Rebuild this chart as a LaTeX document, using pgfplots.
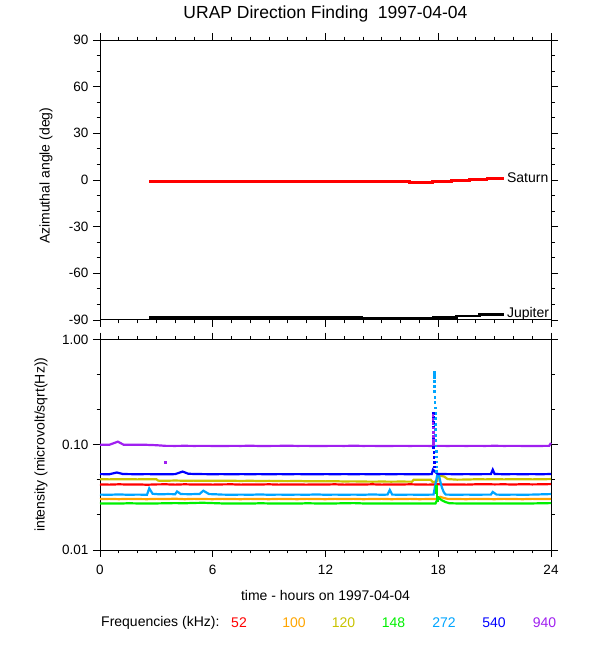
\documentclass[border=0pt]{standalone}
\usepackage{fontspec}
\setmainfont{Liberation Sans}
\usepackage{pgfplots}
\pgfplotsset{compat=1.18}
\definecolor{c52}{RGB}{255,0,0}
\definecolor{c100}{RGB}{255,165,0}
\definecolor{c120}{RGB}{200,195,0}
\definecolor{c148}{RGB}{0,240,0}
\definecolor{c272}{RGB}{0,165,255}
\definecolor{c540}{RGB}{0,0,255}
\definecolor{c940}{RGB}{160,32,240}
\pgfplotsset{urap/.style={
  scale only axis, width=451pt,
  xmin=0, xmax=24, xtick={0,6,12,18,24}, minor xtick={1,2,3,4,5,7,8,9,10,11,13,14,15,16,17,19,20,21,22,23},
  tick align=outside, major tick length=7pt, minor tick length=3.5pt,
  xtick pos=both, ytick pos=both,
  axis line style={line width=1pt}, tick style={line width=0.9pt, black},
  ticklabel style={font=\fontsize{13.5}{15}\selectfont},
  yticklabel style={xshift=-1pt},
  /pgf/number format/assume math mode=true,
  label style={font=\fontsize{14}{16}\selectfont},
  clip=false,
}}
\begin{document}
\begin{tikzpicture}
\useasboundingbox (0,0) rectangle (600pt,650pt);
% ---------------- top panel ----------------
\begin{axis}[urap, at={(100pt,330pt)}, anchor=south west, height=280pt,
  ymin=-90, ymax=90, ytick={-90,-60,-30,0,30,60,90},
  yticklabels={-90,-60,-30,0,30,60,90},
  minor ytick={-80,-70,-50,-40,-20,-10,10,20,40,50,70,80},
  xticklabels={},
  title={URAP Direction Finding\ \ 1997-04-04},
  title style={at={(axis description cs:0.5,1)}, anchor=center, yshift=20pt, font=\fontsize{17.5}{19}\selectfont},
  ylabel={Azimuthal angle (deg)},
  ylabel style={at={(axis description cs:-0.12,0.515)}, anchor=center},
]
\addplot[c52, line width=2.7pt] coordinates {
 (2.62,-1) (16.46,-1) (16.46,-1.8) (17.69,-1.8) (17.69,-1) (18.7,-1)
 (18.7,-0.3) (19.65,-0.3) (19.65,0.4) (20.6,0.4) (20.6,1.1) (21.5,1.1)};
\addplot[black, line width=2.7pt] coordinates {
 (2.62,-88.4) (13.9,-88.4) (13.9,-89.2) (17.74,-89.2) (17.74,-88.4) (18.96,-88.4)
 (18.96,-87.5) (20.2,-87.5) (20.2,-86.6) (21.5,-86.6)};
\node[anchor=west, font=\fontsize{14}{16}\selectfont, inner sep=0pt] at (axis cs:21.65,1.2) {Saturn};
\node[anchor=west, font=\fontsize{14}{16}\selectfont, inner sep=0pt] at (axis cs:21.65,-86.0) {Jupiter};
\end{axis}
% ---------------- bottom panel ----------------
\begin{axis}[urap, at={(100pt,100pt)}, anchor=south west, height=210.5pt,
  ymode=log, ymin=0.01, ymax=1,
  ytick={0.01,0.1,1}, yticklabels={0.01,0.10,1.00},
  minor ytick={0.02154,0.04642,0.2154,0.4642},
  xticklabel style={yshift=-5pt},
  xlabel={time - hours on 1997-04-04},
  xlabel style={at={(axis description cs:0.5,0)}, anchor=center, yshift=-45pt},
  ylabel={intensity (microvolt/sqrt(Hz))},
  ylabel style={at={(axis description cs:-0.131,0.5)}, anchor=center},
]
% 52 kHz
\addplot[c52, line width=2.2pt] coordinates {
 (0,0.0420) (0.5,0.0418) (1,0.0421) (1.5,0.0419) (2,0.0420) (2.5,0.0417) (3,0.0420)
 (3.5,0.0421) (4,0.0418) (4.5,0.0421) (5,0.0419) (5.5,0.0420) (6,0.0418) (6.5,0.0420)
 (7,0.0421) (7.5,0.0418) (8,0.0420) (8.5,0.0419) (9,0.0421) (9.5,0.0418) (10,0.0420)
 (10.5,0.0419) (11,0.0418) (11.5,0.0420) (12,0.0419) (12.5,0.0421) (13,0.0418) (13.5,0.0420)
 (14,0.0419) (14.5,0.0421) (15,0.0418) (15.5,0.0420) (16,0.0419) (16.5,0.0421) (17,0.0419)
 (17.5,0.0418) (17.8,0.0420) (18,0.0421) (18.5,0.0419) (19,0.0420) (19.5,0.0418) (20,0.0421)
 (20.5,0.0422) (21,0.0420) (21.5,0.0421) (22,0.0419) (22.5,0.0422) (23,0.0420) (23.5,0.0421) (24,0.0423)};
% 100 kHz
\addplot[c100, line width=2.2pt] coordinates {
 (0,0.0305) (0.5,0.0306) (1,0.0304) (1.5,0.0306) (2,0.0305) (2.5,0.0304) (3,0.0306)
 (3.5,0.0305) (4,0.0307) (4.5,0.0304) (5,0.0306) (5.5,0.0305) (6,0.0304) (6.5,0.0306)
 (7,0.0305) (7.5,0.0304) (8,0.0306) (8.5,0.0305) (9,0.0304) (9.5,0.0306) (10,0.0305)
 (10.5,0.0304) (11,0.0306) (11.5,0.0305) (12,0.0304) (12.5,0.0306) (13,0.0305) (13.5,0.0306)
 (14,0.0304) (14.5,0.0305) (15,0.0306) (15.5,0.0304) (16,0.0305) (16.5,0.0306) (17,0.0304)
 (17.5,0.0305) (17.9,0.0306) (18.1,0.0320) (18.3,0.0312) (18.5,0.0306) (19,0.0305) (19.5,0.0304)
 (20,0.0306) (20.5,0.0305) (21,0.0304) (21.5,0.0306) (22,0.0305) (22.5,0.0304) (23,0.0306) (23.5,0.0305) (24,0.0306)};
% 120 kHz
\addplot[c120, line width=2.2pt] coordinates {
 (0,0.0470) (0.5,0.0469) (1,0.0471) (1.5,0.0470) (2,0.0469) (2.5,0.0471) (3,0.0470)
 (3.1,0.0456) (3.5,0.0455) (4,0.0457) (4.5,0.0455) (5,0.0456) (5.5,0.0454) (6,0.0456)
 (6.5,0.0454) (7,0.0455) (7.5,0.0453) (8,0.0455) (8.5,0.0452) (9,0.0454) (9.5,0.0452)
 (10,0.0451) (10.5,0.0453) (11,0.0450) (11.5,0.0451) (12,0.0449) (12.5,0.0450) (13,0.0448)
 (13.5,0.0449) (14,0.0447) (14.5,0.0446) (15,0.0447) (15.5,0.0446) (16,0.0447) (16.6,0.0446)
 (16.7,0.0466) (17.2,0.0466) (17.6,0.0465) (17.7,0.0442) (17.95,0.0450) (18.0,0.0510) (18.3,0.0500)
 (18.5,0.0472) (19,0.0466) (19.5,0.0467) (20,0.0470) (20.5,0.0469) (21,0.0470) (21.5,0.0469)
 (22,0.0470) (22.5,0.0471) (23,0.0469) (23.5,0.0470) (24,0.0472)};
% 148 kHz
\addplot[c148, line width=2.2pt] coordinates {
 (0,0.0276) (0.5,0.0277) (1,0.0276) (1.5,0.0278) (2,0.0277) (2.5,0.0276) (3,0.0277)
 (3.5,0.0278) (4,0.0279) (4.5,0.0278) (5,0.0280) (5.5,0.0281) (6,0.0279) (6.5,0.0277)
 (7,0.0276) (7.5,0.0277) (8,0.0276) (8.5,0.0278) (9,0.0277) (9.5,0.0276) (10,0.0277)
 (10.5,0.0276) (11,0.0278) (11.5,0.0277) (12,0.0276) (12.5,0.0277) (13,0.0278) (13.5,0.0279)
 (14,0.0277) (14.5,0.0276) (15,0.0277) (15.5,0.0276) (16,0.0277) (16.5,0.0276) (17,0.0277)
 (17.5,0.0276) (17.85,0.0277) (17.95,0.0300) (18.05,0.0310) (18.2,0.0296) (18.4,0.0285)
 (18.6,0.0278) (19,0.0277) (19.5,0.0276) (20,0.0277) (20.5,0.0276) (21,0.0277) (21.5,0.0276)
 (22,0.0277) (22.5,0.0276) (23,0.0277) (23.5,0.0278) (24,0.0279)};
\addplot[c148, only marks, mark=square*, mark size=0.9pt] coordinates {
 (17.90,0.0405) (17.90,0.0380) (17.91,0.0356) (17.92,0.0334) (17.93,0.0315) (17.94,0.0298)};
% 272 kHz
\addplot[c272, line width=2.2pt] coordinates {
 (0,0.0336) (0.5,0.0335) (1,0.0337) (1.5,0.0335) (2,0.0336) (2.5,0.0335) (2.62,0.0385)
 (2.8,0.0342) (3.2,0.0338) (3.6,0.0340) (4.0,0.0339) (4.1,0.0360) (4.3,0.0340) (4.8,0.0339)
 (5.3,0.0341) (5.5,0.0366) (5.8,0.0340) (6.2,0.0338) (6.5,0.0336) (7,0.0335) (7.5,0.0336)
 (8,0.0335) (8.5,0.0337) (9,0.0335) (9.5,0.0336) (10,0.0335) (10.5,0.0336) (11,0.0335)
 (11.5,0.0337) (12,0.0335) (12.5,0.0336) (13,0.0335) (13.5,0.0336) (14,0.0335) (14.5,0.0337)
 (15,0.0335) (15.3,0.0336) (15.42,0.0372) (15.55,0.0336) (16,0.0335) (16.5,0.0336) (17,0.0335)
 (17.75,0.0336) (17.85,0.0420) (17.95,0.0520) (18.05,0.0500) (18.12,0.0440) (18.2,0.0390)
 (18.3,0.0352) (18.4,0.0336) (19,0.0335) (19.5,0.0336)
 (20,0.0335) (20.5,0.0336) (20.8,0.0336) (20.9,0.0356) (21.1,0.0336) (21.5,0.0335) (22,0.0336)
 (22.5,0.0335) (23,0.0336) (23.5,0.0338) (24,0.0340)};
\addplot[c272, only marks, mark=square*, mark size=0.9pt] coordinates {
 (17.78,0.490) (17.78,0.470) (17.79,0.440) (17.79,0.400) (17.80,0.360) (17.80,0.320) (17.81,0.285)
 (17.81,0.255) (17.82,0.225) (17.82,0.200) (17.83,0.178) (17.83,0.158) (17.84,0.140) (17.85,0.124)
 (17.85,0.110) (17.86,0.098) (17.87,0.087) (17.88,0.077) (17.89,0.069) (17.90,0.062) (17.91,0.056)};
% 540 kHz
\addplot[c540, line width=2.2pt] coordinates {
 (0,0.0526) (0.5,0.0525) (0.9,0.0545) (1.2,0.0528) (1.5,0.0526) (2,0.0525) (2.5,0.0526)
 (3,0.0525) (3.5,0.0524) (4,0.0526) (4.4,0.0556) (4.7,0.0530) (5,0.0528) (5.5,0.0526)
 (6,0.0525) (6.5,0.0526) (7,0.0524) (7.5,0.0526) (8,0.0525) (8.5,0.0526) (9,0.0524)
 (9.5,0.0526) (10,0.0525) (10.5,0.0526) (11,0.0525) (11.5,0.0524) (12,0.0526) (12.5,0.0525)
 (13,0.0526) (13.5,0.0525) (14,0.0526) (14.5,0.0524) (15,0.0526) (15.5,0.0525) (16,0.0526)
 (16.5,0.0525) (17,0.0524) (17.65,0.0526) (17.72,0.0580) (17.8,0.0560) (17.9,0.0540)
 (18.0,0.0528) (18.5,0.0526) (19,0.0525) (19.5,0.0526) (20,0.0525) (20.5,0.0526)
 (20.8,0.0526) (20.9,0.0580) (21.0,0.0527) (21.5,0.0525) (22,0.0526) (22.5,0.0525) (23,0.0526)
 (23.5,0.0525) (24,0.0527)};
\addplot[c540, only marks, mark=square*, mark size=0.9pt] coordinates {
 (17.72,0.200) (17.72,0.185) (17.73,0.165) (17.73,0.148) (17.74,0.132) (17.74,0.118) (17.75,0.106)
 (17.75,0.095) (17.76,0.085) (17.76,0.076) (17.77,0.068) (17.77,0.062)};
% 940 kHz
\addplot[c940, line width=2.2pt] coordinates {
 (0,0.0998) (0.5,0.1000) (0.95,0.1070) (1.25,0.1002) (1.5,0.0999) (2,0.1000) (2.5,0.0998)
 (3,0.0990) (3.5,0.0976) (4,0.0975) (4.5,0.0977) (5,0.0975) (5.5,0.0976) (6,0.0975)
 (6.5,0.0973) (7,0.0976) (7.5,0.0975) (8,0.0978) (8.5,0.0974) (9,0.0975) (9.5,0.0976)
 (10,0.0978) (10.5,0.0975) (11,0.0976) (11.5,0.0973) (12,0.0975) (12.5,0.0976) (13,0.0975)
 (13.5,0.0978) (14,0.0975) (14.5,0.0976) (15,0.0973) (15.5,0.0975) (16,0.0976) (16.5,0.0975)
 (17,0.0976) (17.6,0.0975) (18,0.0976)
 (18.5,0.0975) (19,0.0976) (19.5,0.0975) (20,0.0976) (20.5,0.0975) (21,0.0977) (21.5,0.0975)
 (22,0.0976) (22.5,0.0975) (23,0.0974) (23.5,0.0975) (23.9,0.0976) (24,0.1040)};
\addplot[c940, only marks, mark=square*, mark size=0.9pt] coordinates {
 (17.70,0.190) (17.70,0.175) (17.70,0.160) (17.71,0.145) (17.71,0.132) (17.71,0.120) (17.72,0.110) (17.72,0.103)
 (3.45,0.0685)};
\end{axis}
% ---------------- frequency legend ----------------
\begin{scope}[every node/.style={font=\fontsize{14}{16}\selectfont, inner sep=0pt}]
\node[anchor=west] at (101pt,27.3pt) {Frequencies (kHz):};
\node[c52]  at (239pt,27.3pt) {52};
\node[c100] at (294pt,27.3pt) {100};
\node[c120] at (343.5pt,27.3pt) {120};
\node[c148] at (393.6pt,27.3pt) {148};
\node[c272] at (444pt,27.3pt) {272};
\node[c540] at (494pt,27.3pt) {540};
\node[c940] at (544.5pt,27.3pt) {940};
\end{scope}
\end{tikzpicture}
\end{document}
